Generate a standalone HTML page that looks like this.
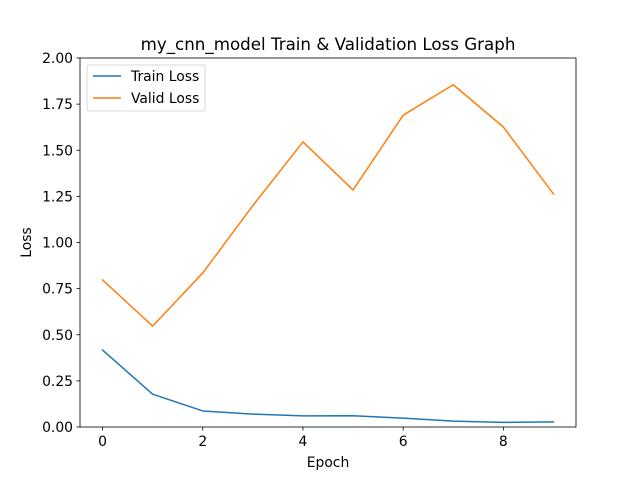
<!DOCTYPE html>
<html><head><meta charset="utf-8"><style>
body{margin:0;background:#fff;}
svg{display:block;font-family:"DejaVu Sans","Liberation Sans",sans-serif;}
</style></head><body>
<svg id="c" width="640" height="480"></svg>
<script>
const epochs=[0,1,2,3,4,5,6,7,8,9];
const trainLoss=[0.417,0.178,0.087,0.070,0.060,0.061,0.048,0.032,0.025,0.028];
const validLoss=[0.797,0.547,0.835,1.200,1.545,1.285,1.690,1.855,1.626,1.263];
const xTicks=[0,2,4,6,8];
const yTicks=[0,0.25,0.5,0.75,1.0,1.25,1.5,1.75,2.0];
const L=80,R=576,T=58,B=427,xmin=-0.45,xmax=9.45,ymin=0,ymax=2;
const sx=v=>L+(v-xmin)/(xmax-xmin)*(R-L);
const sy=v=>B-(v-ymin)/(ymax-ymin)*(B-T);
const svg=document.getElementById('c');const NS='http://www.w3.org/2000/svg';
function mk(t,a,p){const e=document.createElementNS(NS,t);for(const k in a)e.setAttribute(k,a[k]);(p||svg).appendChild(e);return e;}
function line(vals,color,name){
 const p=mk('polyline',{points:vals.map((v,i)=>sx(epochs[i])+','+sy(v)).join(' '),fill:'none',stroke:color,'stroke-width':1.5,'stroke-linejoin':'round','stroke-linecap':'square'});
 
 
}
line(trainLoss,'#1f77b4','train-loss-line');
line(validLoss,'#ff7f0e','valid-loss-line');
const fr=mk('rect',{x:L,y:T,width:R-L,height:B-T,fill:'none',stroke:'#000','stroke-width':0.8});


const FS=13.9;
xTicks.forEach(v=>{const x=sx(v);mk('line',{x1:x,x2:x,y1:B,y2:B+3.5,stroke:'#000','stroke-width':0.8});
 const t=mk('text',{x:x,y:B+19,'text-anchor':'middle','font-size':FS});t.textContent=v;
 
 });
yTicks.forEach(v=>{const y=sy(v);mk('line',{x1:L,x2:L-3.5,y1:y,y2:y,stroke:'#000','stroke-width':0.8});
 const t=mk('text',{x:L-7,y:y+5,'text-anchor':'end','font-size':FS});t.textContent=v.toFixed(2);
 
 });
let t=mk('text',{x:(L+R)/2,y:50,'text-anchor':'middle','font-size':16.7});t.textContent='my_cnn_model Train & Validation Loss Graph';


t=mk('text',{x:(L+R)/2,y:467,'text-anchor':'middle','font-size':FS});t.textContent='Epoch';


t=mk('text',{x:31,y:(T+B)/2,'text-anchor':'middle','font-size':FS,transform:'rotate(-90 31 '+((T+B)/2)+')'});t.textContent='Loss';


const lg=mk('g',{});


mk('rect',{x:87,y:65,width:118,height:46,rx:2,fill:'#fff',stroke:'#ccc','stroke-width':0.8},lg);
[['Train Loss','#1f77b4',76],['Valid Loss','#ff7f0e',98]].forEach(([n,c,y])=>{
 mk('line',{x1:93,x2:121,y1:y,y2:y,stroke:c,'stroke-width':1.5},lg);
 const e=mk('text',{x:131,y:y+5,'font-size':FS},lg);e.textContent=n;
 
 
});
</script>
</body></html>
